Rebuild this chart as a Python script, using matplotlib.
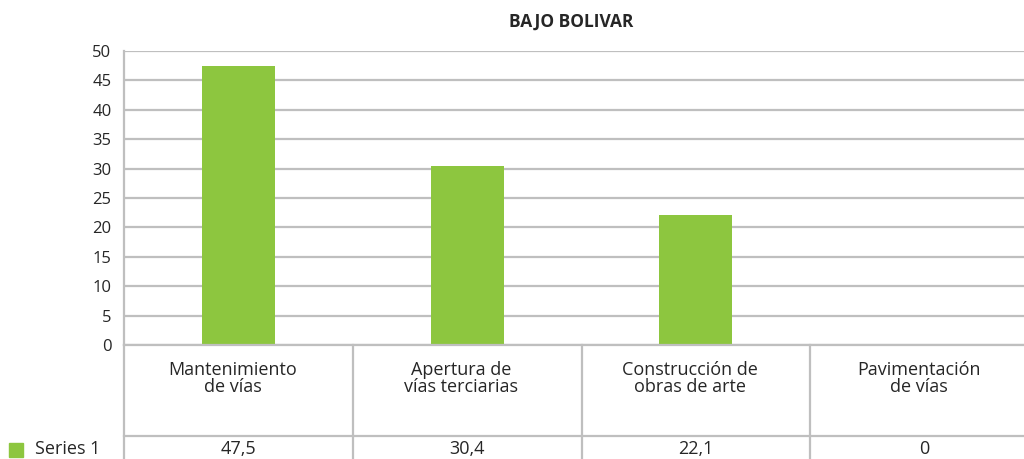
import matplotlib
matplotlib.use("Agg")
import matplotlib.pyplot as plt
from matplotlib.lines import Line2D
from matplotlib.patches import Rectangle

categories = ["Mantenimiento\nde vías", "Apertura de\nvías terciarias", "Construcción de\nobras de arte", "Pavimentación\nde vías"]
values = [47.5, 30.4, 22.1, 0]
value_labels = ["47,5", "30,4", "22,1", "0"]
series_name = "Series 1"
title = "BAJO BOLIVAR"
yticks = [0, 5, 10, 15, 20, 25, 30, 35, 40, 45, 50]

W, H = 1024, 459
plt.rcParams['font.family'] = ['Open Sans', 'DejaVu Sans']
green = "#8DC63F"
grid = "#BFBFBF"
tc = "#262626"

fig = plt.figure(figsize=(W/100, H/100), dpi=100)
ax_left, ax_right = 124, 1039
ax_top, ax_bot = 51, 345
ax = fig.add_axes([ax_left/W, (H-ax_bot)/H, (ax_right-ax_left)/W, (ax_bot-ax_top)/H])
x = list(range(len(categories)))
ax.bar(x, values, width=0.32, color=green, zorder=3)
ax.set_xlim(-0.5, len(categories)-0.5)
ax.set_ylim(0, 50)
ax.set_yticks(yticks)
ax.set_yticklabels([str(t) for t in yticks], fontsize=12, color=tc)
ax.tick_params(axis='y', length=0, pad=9)
ax.set_xticks([])
ax.yaxis.grid(True, color=grid, linewidth=1.6, zorder=0)
for s in ['top', 'right', 'bottom']:
    ax.spines[s].set_visible(False)
ax.spines['left'].set_color(grid)
ax.spines['left'].set_linewidth(1.6)

fig.text(571/W, 1-22/H, title, ha='center', va='center', fontsize=12.5, fontweight='bold', color=tc)

def fy(py):
    return 1 - py/H

# table lines
col_w = (ax_right-ax_left)/len(categories)
fig.add_artist(Line2D([ax_left/W, ax_left/W], [fy(ax_bot), fy(H)], color=grid, lw=1.6))
for i in range(1, len(categories)):
    xp = ax_left + i*col_w
    fig.add_artist(Line2D([xp/W, xp/W], [fy(ax_bot), fy(H)], color=grid, lw=1.6))
fig.add_artist(Line2D([ax_left/W, 1], [fy(ax_bot), fy(ax_bot)], color=grid, lw=1.6))
fig.add_artist(Line2D([ax_left/W, 1], [fy(436), fy(436)], color=grid, lw=1.6))

for i, (c, v) in enumerate(zip(categories, value_labels)):
    xc = ax_left + (i+0.5)*col_w
    fig.text((xc-6)/W, fy(361), c, ha='center', va='top', fontsize=13, color=tc, linespacing=0.9)
    fig.text(xc/W, fy(449), v, ha='center', va='center', fontsize=13, color=tc)

fig.add_artist(Rectangle((9/W, fy(457)), 14/W, 14/H, color=green, transform=fig.transFigure))
fig.text(35/W, fy(449), series_name, ha='left', va='center', fontsize=13, color=tc)

fig.savefig("out.png", dpi=100)
